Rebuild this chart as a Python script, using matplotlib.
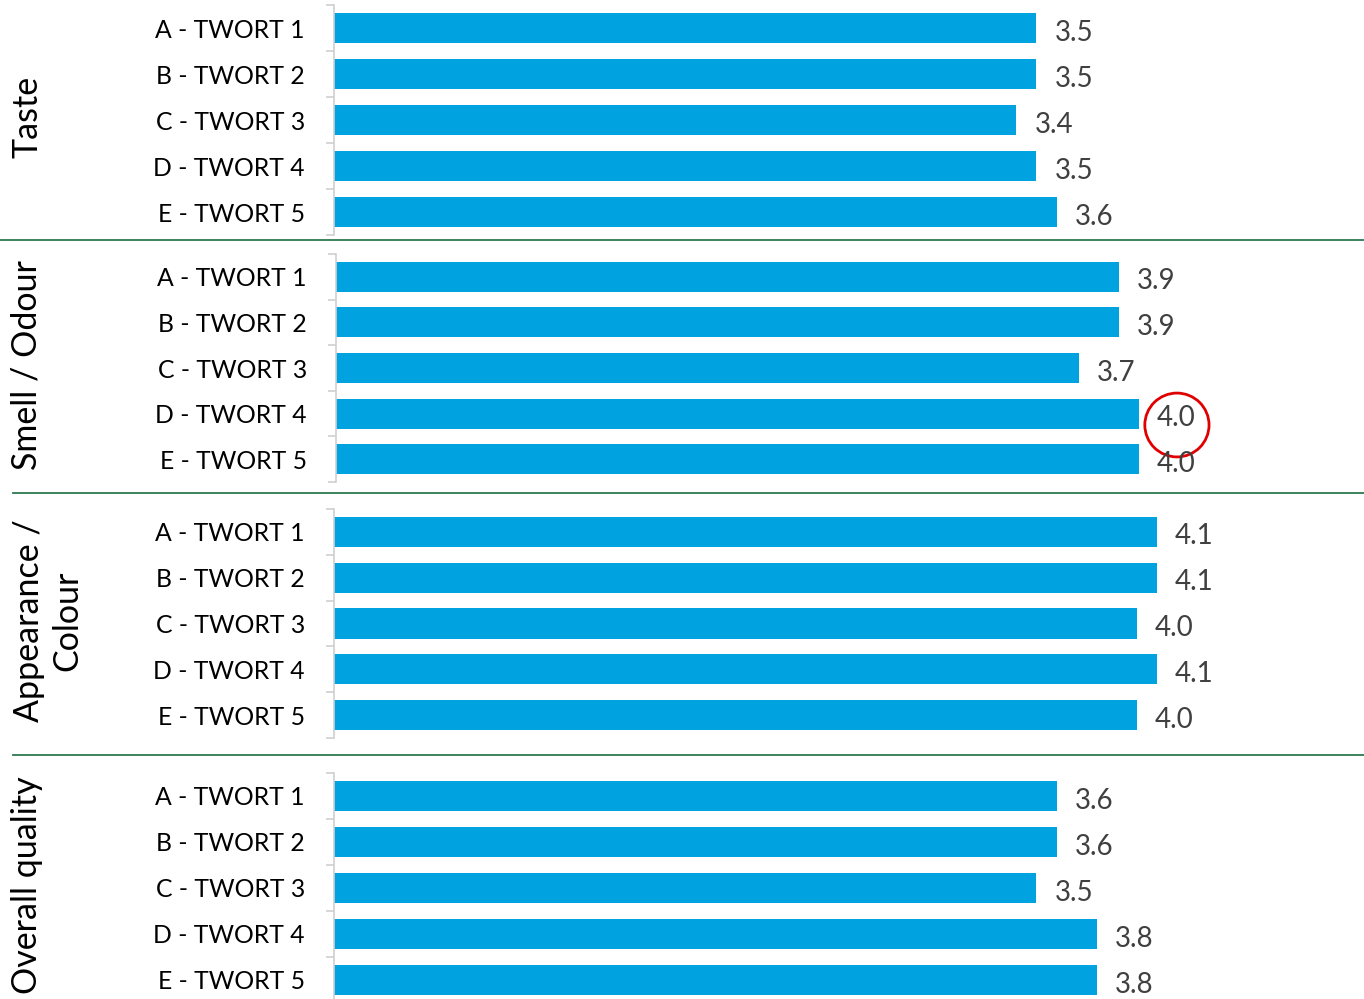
import matplotlib
matplotlib.use('Agg')
import matplotlib.pyplot as plt
from matplotlib.lines import Line2D
from matplotlib.patches import Ellipse

plt.rcParams['font.family'] = ['Lato', 'DejaVu Sans']

categories = ['A - TWORT 1', 'B - TWORT 2', 'C - TWORT 3', 'D - TWORT 4', 'E - TWORT 5']
panel_titles = ['Taste', 'Smell / Odour', 'Appearance /\nColour', 'Overall quality']
taste = [3.5, 3.5, 3.4, 3.5, 3.6]
smell = [3.9, 3.9, 3.7, 4.0, 4.0]
appearance = [4.1, 4.1, 4.0, 4.1, 4.0]
overall = [3.6, 3.6, 3.5, 3.8, 3.8]
panel_values = [taste, smell, appearance, overall]

W, H = 1364, 999
BAR = '#00a2df'
SEP = '#2b7a50'

# pixel boxes (left, top, bottom) for each panel
boxes = [(334, 5, 235), (336, 254, 482), (334, 509, 738), (334, 773, 1003)]
title_x = [27, 27, 48, 27]

fig = plt.figure(figsize=(W / 100, H / 100), dpi=100)

for i, (vals, (left, top, bottom)) in enumerate(zip(panel_values, boxes)):
    ax = fig.add_axes([left / W, 1 - bottom / H, (W - left) / W, (bottom - top) / H])
    y = list(range(len(categories)))
    ax.barh(y, vals, height=0.66, color=BAR)
    ax.set_ylim(len(categories) - 0.5, -0.5)
    ax.set_xlim(0, (W - left) / 200.7)
    ax.set_yticks(y)
    ax.set_yticklabels(categories, fontsize=17.8, color='#000000')
    ax.set_yticks([k - 0.5 for k in range(len(categories) + 1)], minor=True)
    ax.tick_params(axis='y', which='major', length=0, pad=21)
    ax.tick_params(axis='y', which='minor', length=6, color='#d0d0d0', width=1.2)
    ax.set_xticks([])
    for s in ['top', 'right', 'bottom']:
        ax.spines[s].set_visible(False)
    ax.spines['left'].set_color('#d0d0d0')
    ax.spines['left'].set_linewidth(1.2)
    for yy, v in zip(y, vals):
        ax.text(v + 0.09, yy + 0.1, f'{v:.1f}', va='center', ha='left',
                fontsize=20, color='#404040')
    if i == 1:
        # highlight the D - TWORT 4 value
        ax.add_patch(Ellipse((vals[3] + 0.19, 3.25), 0.32, 1.4, fill=False,
                             edgecolor='#e00000', linewidth=2, clip_on=False))
    fig.text(title_x[i] / W, 1 - ((top + bottom) / 2 - 3) / H, panel_titles[i],
             rotation=90, ha='center', va='center', fontsize=24.5,
             color='#000000', linespacing=1.25)

for yy, x0 in [(240, 0), (493, 13), (755, 13)]:
    fig.add_artist(Line2D([x0 / W, 1], [1 - yy / H, 1 - yy / H],
                          color=SEP, linewidth=1.3))

fig.savefig('out.png', dpi=100)
